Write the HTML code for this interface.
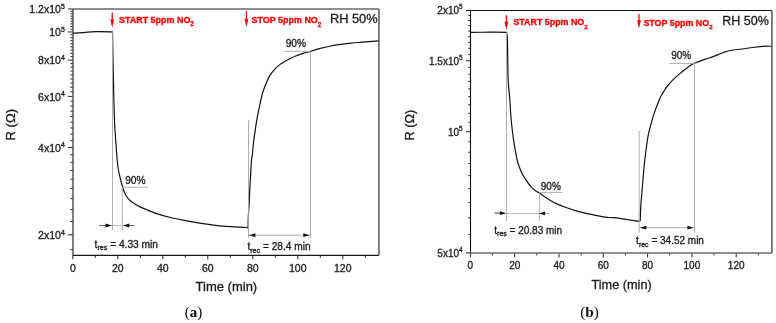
<!DOCTYPE html>
<html><head><meta charset="utf-8"><style>
html,body{margin:0;padding:0;background:#fff;width:776px;height:323px;overflow:hidden;}
svg{display:block;will-change:transform;}
text{font-family:"Liberation Sans", sans-serif;stroke:#1a1a1a;stroke-width:0.3px;}
text.r{stroke:#ff0000;}
text.s{font-family:"Liberation Serif", serif;stroke-width:0.05px;}
</style></head><body>
<svg width="776" height="323" viewBox="0 0 776 323">
<rect width="776" height="323" fill="#fff"/>
<line x1="70.40" y1="249.66" x2="73.00" y2="249.66" stroke="#222" stroke-width="1.0"/>
<line x1="70.40" y1="221.54" x2="73.00" y2="221.54" stroke="#222" stroke-width="1.0"/>
<line x1="70.40" y1="209.53" x2="73.00" y2="209.53" stroke="#222" stroke-width="1.0"/>
<line x1="70.40" y1="198.56" x2="73.00" y2="198.56" stroke="#222" stroke-width="1.0"/>
<line x1="70.40" y1="188.47" x2="73.00" y2="188.47" stroke="#222" stroke-width="1.0"/>
<line x1="70.40" y1="179.13" x2="73.00" y2="179.13" stroke="#222" stroke-width="1.0"/>
<line x1="70.40" y1="170.44" x2="73.00" y2="170.44" stroke="#222" stroke-width="1.0"/>
<line x1="70.40" y1="162.30" x2="73.00" y2="162.30" stroke="#222" stroke-width="1.0"/>
<line x1="70.40" y1="154.66" x2="73.00" y2="154.66" stroke="#222" stroke-width="1.0"/>
<line x1="70.40" y1="140.65" x2="73.00" y2="140.65" stroke="#222" stroke-width="1.0"/>
<line x1="70.40" y1="134.18" x2="73.00" y2="134.18" stroke="#222" stroke-width="1.0"/>
<line x1="70.40" y1="128.03" x2="73.00" y2="128.03" stroke="#222" stroke-width="1.0"/>
<line x1="70.40" y1="122.17" x2="73.00" y2="122.17" stroke="#222" stroke-width="1.0"/>
<line x1="70.40" y1="116.57" x2="73.00" y2="116.57" stroke="#222" stroke-width="1.0"/>
<line x1="70.40" y1="111.20" x2="73.00" y2="111.20" stroke="#222" stroke-width="1.0"/>
<line x1="70.40" y1="106.06" x2="73.00" y2="106.06" stroke="#222" stroke-width="1.0"/>
<line x1="70.40" y1="101.11" x2="73.00" y2="101.11" stroke="#222" stroke-width="1.0"/>
<line x1="70.40" y1="91.77" x2="73.00" y2="91.77" stroke="#222" stroke-width="1.0"/>
<line x1="70.40" y1="87.35" x2="73.00" y2="87.35" stroke="#222" stroke-width="1.0"/>
<line x1="70.40" y1="83.08" x2="73.00" y2="83.08" stroke="#222" stroke-width="1.0"/>
<line x1="70.40" y1="78.95" x2="73.00" y2="78.95" stroke="#222" stroke-width="1.0"/>
<line x1="70.40" y1="74.95" x2="73.00" y2="74.95" stroke="#222" stroke-width="1.0"/>
<line x1="70.40" y1="71.07" x2="73.00" y2="71.07" stroke="#222" stroke-width="1.0"/>
<line x1="70.40" y1="67.30" x2="73.00" y2="67.30" stroke="#222" stroke-width="1.0"/>
<line x1="70.40" y1="63.65" x2="73.00" y2="63.65" stroke="#222" stroke-width="1.0"/>
<line x1="70.40" y1="56.65" x2="73.00" y2="56.65" stroke="#222" stroke-width="1.0"/>
<line x1="70.40" y1="53.29" x2="73.00" y2="53.29" stroke="#222" stroke-width="1.0"/>
<line x1="70.40" y1="50.01" x2="73.00" y2="50.01" stroke="#222" stroke-width="1.0"/>
<line x1="70.40" y1="46.82" x2="73.00" y2="46.82" stroke="#222" stroke-width="1.0"/>
<line x1="70.40" y1="43.71" x2="73.00" y2="43.71" stroke="#222" stroke-width="1.0"/>
<line x1="70.40" y1="40.67" x2="73.00" y2="40.67" stroke="#222" stroke-width="1.0"/>
<line x1="70.40" y1="37.71" x2="73.00" y2="37.71" stroke="#222" stroke-width="1.0"/>
<line x1="70.40" y1="34.81" x2="73.00" y2="34.81" stroke="#222" stroke-width="1.0"/>
<line x1="70.40" y1="29.21" x2="73.00" y2="29.21" stroke="#222" stroke-width="1.0"/>
<line x1="70.40" y1="26.50" x2="73.00" y2="26.50" stroke="#222" stroke-width="1.0"/>
<line x1="70.40" y1="23.84" x2="73.00" y2="23.84" stroke="#222" stroke-width="1.0"/>
<line x1="70.40" y1="21.25" x2="73.00" y2="21.25" stroke="#222" stroke-width="1.0"/>
<line x1="70.40" y1="18.70" x2="73.00" y2="18.70" stroke="#222" stroke-width="1.0"/>
<line x1="70.40" y1="16.20" x2="73.00" y2="16.20" stroke="#222" stroke-width="1.0"/>
<line x1="70.40" y1="13.76" x2="73.00" y2="13.76" stroke="#222" stroke-width="1.0"/>
<line x1="70.40" y1="11.36" x2="73.00" y2="11.36" stroke="#222" stroke-width="1.0"/>
<line x1="68.00" y1="234.82" x2="73.00" y2="234.82" stroke="#222" stroke-width="1.0"/>
<line x1="68.00" y1="147.46" x2="73.00" y2="147.46" stroke="#222" stroke-width="1.0"/>
<line x1="68.00" y1="96.36" x2="73.00" y2="96.36" stroke="#222" stroke-width="1.0"/>
<line x1="68.00" y1="60.10" x2="73.00" y2="60.10" stroke="#222" stroke-width="1.0"/>
<line x1="68.00" y1="31.98" x2="73.00" y2="31.98" stroke="#222" stroke-width="1.0"/>
<line x1="68.00" y1="9.00" x2="73.00" y2="9.00" stroke="#222" stroke-width="1.0"/>
<line x1="72.80" y1="255.30" x2="72.80" y2="259.30" stroke="#222" stroke-width="1.0"/>
<line x1="95.30" y1="255.30" x2="95.30" y2="257.80" stroke="#222" stroke-width="1.0"/>
<line x1="117.80" y1="255.30" x2="117.80" y2="259.30" stroke="#222" stroke-width="1.0"/>
<line x1="140.30" y1="255.30" x2="140.30" y2="257.80" stroke="#222" stroke-width="1.0"/>
<line x1="162.80" y1="255.30" x2="162.80" y2="259.30" stroke="#222" stroke-width="1.0"/>
<line x1="185.30" y1="255.30" x2="185.30" y2="257.80" stroke="#222" stroke-width="1.0"/>
<line x1="207.80" y1="255.30" x2="207.80" y2="259.30" stroke="#222" stroke-width="1.0"/>
<line x1="230.30" y1="255.30" x2="230.30" y2="257.80" stroke="#222" stroke-width="1.0"/>
<line x1="252.80" y1="255.30" x2="252.80" y2="259.30" stroke="#222" stroke-width="1.0"/>
<line x1="275.30" y1="255.30" x2="275.30" y2="257.80" stroke="#222" stroke-width="1.0"/>
<line x1="297.80" y1="255.30" x2="297.80" y2="259.30" stroke="#222" stroke-width="1.0"/>
<line x1="320.30" y1="255.30" x2="320.30" y2="257.80" stroke="#222" stroke-width="1.0"/>
<line x1="342.80" y1="255.30" x2="342.80" y2="259.30" stroke="#222" stroke-width="1.0"/>
<line x1="365.30" y1="255.30" x2="365.30" y2="257.80" stroke="#222" stroke-width="1.0"/>
<line x1="73.00" y1="9.00" x2="378.90" y2="9.00" stroke="#6a6a6a" stroke-width="1.4"/>
<line x1="73.00" y1="9.00" x2="73.00" y2="255.30" stroke="#555" stroke-width="1.5"/>
<line x1="73.00" y1="255.30" x2="378.90" y2="255.30" stroke="#1a1a1a" stroke-width="1.2"/>
<line x1="378.90" y1="9.00" x2="378.90" y2="255.30" stroke="#6a6a6a" stroke-width="1.7"/>
<text x="72.80" y="271.70" font-size="10.5" text-anchor="middle" fill="#1a1a1a" font-weight="normal" font-family='"Liberation Sans", sans-serif' >0</text>
<text x="117.80" y="271.70" font-size="10.5" text-anchor="middle" fill="#1a1a1a" font-weight="normal" font-family='"Liberation Sans", sans-serif' >20</text>
<text x="162.80" y="271.70" font-size="10.5" text-anchor="middle" fill="#1a1a1a" font-weight="normal" font-family='"Liberation Sans", sans-serif' >40</text>
<text x="207.80" y="271.70" font-size="10.5" text-anchor="middle" fill="#1a1a1a" font-weight="normal" font-family='"Liberation Sans", sans-serif' >60</text>
<text x="252.80" y="271.70" font-size="10.5" text-anchor="middle" fill="#1a1a1a" font-weight="normal" font-family='"Liberation Sans", sans-serif' >80</text>
<text x="297.80" y="271.70" font-size="10.5" text-anchor="middle" fill="#1a1a1a" font-weight="normal" font-family='"Liberation Sans", sans-serif' >100</text>
<text x="342.80" y="271.70" font-size="10.5" text-anchor="middle" fill="#1a1a1a" font-weight="normal" font-family='"Liberation Sans", sans-serif' >120</text>
<text x="64.80" y="13.30" font-size="10.5" text-anchor="end" fill="#1a1a1a" font-family='"Liberation Sans", sans-serif'>1.2x10<tspan dy="-4.3" font-size="7.0">5</tspan></text>
<text x="64.80" y="36.28" font-size="10.5" text-anchor="end" fill="#1a1a1a" font-family='"Liberation Sans", sans-serif'>10<tspan dy="-4.3" font-size="7.0">5</tspan></text>
<text x="64.80" y="64.40" font-size="10.5" text-anchor="end" fill="#1a1a1a" font-family='"Liberation Sans", sans-serif'>8x10<tspan dy="-4.3" font-size="7.0">4</tspan></text>
<text x="64.80" y="100.66" font-size="10.5" text-anchor="end" fill="#1a1a1a" font-family='"Liberation Sans", sans-serif'>6x10<tspan dy="-4.3" font-size="7.0">4</tspan></text>
<text x="64.80" y="151.76" font-size="10.5" text-anchor="end" fill="#1a1a1a" font-family='"Liberation Sans", sans-serif'>4x10<tspan dy="-4.3" font-size="7.0">4</tspan></text>
<text x="64.80" y="239.12" font-size="10.5" text-anchor="end" fill="#1a1a1a" font-family='"Liberation Sans", sans-serif'>2x10<tspan dy="-4.3" font-size="7.0">4</tspan></text>
<text x="226.40" y="291.20" font-size="13.0" text-anchor="middle" fill="#1a1a1a" font-weight="normal" font-family='"Liberation Sans", sans-serif' >Time (min)</text>
<text transform="translate(15.20,124.70) rotate(-90)" font-size="13.0" text-anchor="middle" fill="#1a1a1a" font-family='"Liberation Sans", sans-serif'>R (&#937;)</text>
<text x="329.90" y="22.60" font-size="12.8" text-anchor="start" fill="#1a1a1a" font-weight="normal" font-family='"Liberation Sans", sans-serif' >RH 50%</text>
<line x1="112.20" y1="12.80" x2="112.20" y2="22.70" stroke="#ff0000" stroke-width="1.3"/>
<polygon points="112.20,27.70 110.30,19.50 114.10,19.50" fill="#ff0000"/>
<text class="r" x="119.00" y="23.20" font-size="8.95" font-weight="bold" fill="#ff0000" font-family='"Liberation Sans", sans-serif'>START 5ppm NO<tspan dy="3.2" font-size="6.3">2</tspan></text>
<line x1="246.40" y1="11.20" x2="246.40" y2="22.20" stroke="#ff0000" stroke-width="1.3"/>
<polygon points="246.40,27.20 244.50,19.00 248.30,19.00" fill="#ff0000"/>
<text class="r" x="251.60" y="23.40" font-size="8.95" font-weight="bold" fill="#ff0000" font-family='"Liberation Sans", sans-serif'>STOP 5ppm NO<tspan dy="3.2" font-size="6.3">2</tspan></text>
<path d="M73.00,33.10 C74.67,33.02 79.17,32.85 83.00,32.60 C86.83,32.35 91.33,31.73 96.00,31.60 C100.67,31.47 108.25,31.70 111.00,31.80 C113.75,31.90 112.25,32.13 112.50,32.20 L112.50,32.20 C112.58,36.83 112.77,48.70 113.00,60.00 C113.23,71.30 113.62,89.20 113.90,100.00 C114.18,110.80 114.32,116.97 114.70,124.80 C115.08,132.63 115.75,140.80 116.20,147.00 C116.65,153.20 117.00,158.00 117.40,162.00 C117.80,166.00 118.15,168.42 118.60,171.00 C119.05,173.58 119.60,175.40 120.10,177.50 C120.60,179.60 121.08,181.68 121.60,183.60 C122.12,185.52 122.55,187.18 123.20,189.00 C123.85,190.82 124.60,192.82 125.50,194.50 C126.40,196.18 127.30,197.68 128.60,199.10 C129.90,200.52 131.48,201.75 133.30,203.00 C135.12,204.25 137.43,205.55 139.50,206.60 C141.57,207.65 142.70,208.08 145.70,209.30 C148.70,210.52 153.37,212.53 157.50,213.90 C161.63,215.27 166.07,216.42 170.50,217.50 C174.93,218.58 179.25,219.45 184.10,220.40 C188.95,221.35 194.70,222.42 199.60,223.20 C204.50,223.98 208.30,224.52 213.50,225.10 C218.70,225.68 225.38,226.30 230.80,226.70 C236.22,227.10 243.12,227.28 246.00,227.50 C248.88,227.72 247.75,227.92 248.10,228.00 L248.10,228.00 C248.12,226.68 248.13,222.52 248.20,220.10 C248.27,217.68 248.35,216.10 248.50,213.50 C248.65,210.90 248.88,208.58 249.10,204.50 C249.32,200.42 249.53,194.18 249.80,189.00 C250.07,183.82 250.42,178.23 250.70,173.40 C250.98,168.57 251.22,163.18 251.50,160.00 C251.78,156.82 252.05,157.32 252.40,154.30 C252.75,151.28 253.12,146.02 253.60,141.90 C254.08,137.78 254.68,133.72 255.30,129.60 C255.92,125.48 256.55,121.33 257.30,117.20 C258.05,113.07 258.97,108.67 259.80,104.80 C260.63,100.93 261.58,96.72 262.30,94.00 C263.02,91.28 263.47,90.27 264.10,88.50 C264.73,86.73 265.35,85.17 266.10,83.40 C266.85,81.63 267.67,79.65 268.60,77.90 C269.53,76.15 270.57,74.45 271.70,72.90 C272.83,71.35 274.05,69.98 275.40,68.60 C276.75,67.22 278.25,65.80 279.80,64.60 C281.35,63.40 283.05,62.38 284.70,61.40 C286.35,60.42 287.98,59.57 289.70,58.70 C291.42,57.83 292.77,57.08 295.00,56.20 C297.23,55.32 300.48,54.22 303.10,53.40 C305.72,52.58 307.83,52.15 310.70,51.30 C313.57,50.45 316.93,49.18 320.30,48.30 C323.67,47.42 327.42,46.65 330.90,46.00 C334.38,45.35 337.77,44.88 341.20,44.40 C344.63,43.92 348.05,43.47 351.50,43.10 C354.95,42.73 358.45,42.50 361.90,42.20 C365.35,41.90 369.45,41.53 372.20,41.30 C374.95,41.07 377.37,40.88 378.40,40.80" fill="none" stroke="#111" stroke-width="1.2" stroke-linejoin="miter"/>
<line x1="112.50" y1="32.00" x2="112.50" y2="230.20" stroke="#a6a6a6" stroke-width="0.9"/>
<line x1="122.30" y1="187.20" x2="122.30" y2="230.20" stroke="#a6a6a6" stroke-width="0.9"/>
<line x1="122.30" y1="187.20" x2="148.00" y2="187.20" stroke="#a6a6a6" stroke-width="0.9"/>
<line x1="99.00" y1="225.50" x2="134.40" y2="225.50" stroke="#aaa" stroke-width="0.8"/>
<line x1="99.00" y1="225.50" x2="106.00" y2="225.50" stroke="#555" stroke-width="0.8"/>
<line x1="128.00" y1="225.50" x2="134.40" y2="225.50" stroke="#555" stroke-width="0.8"/>
<polygon points="111.80,225.50 105.50,223.60 105.50,227.40" fill="#111"/>
<polygon points="123.00,225.50 129.30,223.60 129.30,227.40" fill="#111"/>
<text x="125.20" y="184.30" font-size="10.2" text-anchor="start" fill="#1a1a1a" font-weight="normal" font-family='"Liberation Sans", sans-serif' >90%</text>
<text x="94.60" y="247.80" font-size="10.2" fill="#1a1a1a" font-family='"Liberation Sans", sans-serif'>t<tspan dy="2.6" font-size="7.1">res</tspan><tspan dy="-2.6"> = 4.33 min</tspan></text>
<line x1="248.50" y1="119.80" x2="248.50" y2="237.90" stroke="#a6a6a6" stroke-width="0.9"/>
<line x1="310.50" y1="51.40" x2="310.50" y2="237.90" stroke="#a6a6a6" stroke-width="0.9"/>
<line x1="284.60" y1="51.40" x2="310.50" y2="51.40" stroke="#a6a6a6" stroke-width="0.9"/>
<line x1="248.50" y1="235.20" x2="310.50" y2="235.20" stroke="#999" stroke-width="0.8"/>
<polygon points="249.10,235.20 255.40,233.30 255.40,237.10" fill="#111"/>
<polygon points="309.60,235.20 303.30,233.30 303.30,237.10" fill="#111"/>
<text x="285.70" y="46.80" font-size="10.2" text-anchor="start" fill="#1a1a1a" font-weight="normal" font-family='"Liberation Sans", sans-serif' >90%</text>
<text x="247.40" y="250.20" font-size="10.2" fill="#1a1a1a" font-family='"Liberation Sans", sans-serif'>t<tspan dy="2.6" font-size="7.1">rec</tspan><tspan dy="-2.6"> = 28.4 min</tspan></text>
<text class="s" x="193.50" y="316.70" font-size="15.0" text-anchor="middle" fill="#111" font-family='"Liberation Serif", serif'>(<tspan font-weight="bold">a</tspan>)</text>
<line x1="468.30" y1="234.48" x2="470.50" y2="234.48" stroke="#222" stroke-width="1.0"/>
<line x1="468.30" y1="217.81" x2="470.50" y2="217.81" stroke="#222" stroke-width="1.0"/>
<line x1="468.30" y1="202.60" x2="470.50" y2="202.60" stroke="#222" stroke-width="1.0"/>
<line x1="468.30" y1="188.60" x2="470.50" y2="188.60" stroke="#222" stroke-width="1.0"/>
<line x1="468.30" y1="175.64" x2="470.50" y2="175.64" stroke="#222" stroke-width="1.0"/>
<line x1="468.30" y1="163.58" x2="470.50" y2="163.58" stroke="#222" stroke-width="1.0"/>
<line x1="468.30" y1="152.29" x2="470.50" y2="152.29" stroke="#222" stroke-width="1.0"/>
<line x1="468.30" y1="141.69" x2="470.50" y2="141.69" stroke="#222" stroke-width="1.0"/>
<line x1="468.30" y1="122.25" x2="470.50" y2="122.25" stroke="#222" stroke-width="1.0"/>
<line x1="468.30" y1="113.28" x2="470.50" y2="113.28" stroke="#222" stroke-width="1.0"/>
<line x1="468.30" y1="104.75" x2="470.50" y2="104.75" stroke="#222" stroke-width="1.0"/>
<line x1="468.30" y1="96.61" x2="470.50" y2="96.61" stroke="#222" stroke-width="1.0"/>
<line x1="468.30" y1="88.84" x2="470.50" y2="88.84" stroke="#222" stroke-width="1.0"/>
<line x1="468.30" y1="81.40" x2="470.50" y2="81.40" stroke="#222" stroke-width="1.0"/>
<line x1="468.30" y1="74.26" x2="470.50" y2="74.26" stroke="#222" stroke-width="1.0"/>
<line x1="468.30" y1="67.40" x2="470.50" y2="67.40" stroke="#222" stroke-width="1.0"/>
<line x1="468.30" y1="54.44" x2="470.50" y2="54.44" stroke="#222" stroke-width="1.0"/>
<line x1="468.30" y1="48.31" x2="470.50" y2="48.31" stroke="#222" stroke-width="1.0"/>
<line x1="468.30" y1="42.38" x2="470.50" y2="42.38" stroke="#222" stroke-width="1.0"/>
<line x1="468.30" y1="36.65" x2="470.50" y2="36.65" stroke="#222" stroke-width="1.0"/>
<line x1="468.30" y1="31.09" x2="470.50" y2="31.09" stroke="#222" stroke-width="1.0"/>
<line x1="468.30" y1="25.71" x2="470.50" y2="25.71" stroke="#222" stroke-width="1.0"/>
<line x1="468.30" y1="20.49" x2="470.50" y2="20.49" stroke="#222" stroke-width="1.0"/>
<line x1="468.30" y1="15.43" x2="470.50" y2="15.43" stroke="#222" stroke-width="1.0"/>
<line x1="466.00" y1="252.90" x2="470.50" y2="252.90" stroke="#222" stroke-width="1.0"/>
<line x1="466.00" y1="131.70" x2="470.50" y2="131.70" stroke="#222" stroke-width="1.0"/>
<line x1="466.00" y1="60.80" x2="470.50" y2="60.80" stroke="#222" stroke-width="1.0"/>
<line x1="466.00" y1="10.50" x2="470.50" y2="10.50" stroke="#222" stroke-width="1.0"/>
<line x1="470.40" y1="252.90" x2="470.40" y2="257.40" stroke="#222" stroke-width="1.0"/>
<line x1="492.55" y1="252.90" x2="492.55" y2="255.40" stroke="#222" stroke-width="1.0"/>
<line x1="514.70" y1="252.90" x2="514.70" y2="257.40" stroke="#222" stroke-width="1.0"/>
<line x1="536.85" y1="252.90" x2="536.85" y2="255.40" stroke="#222" stroke-width="1.0"/>
<line x1="559.00" y1="252.90" x2="559.00" y2="257.40" stroke="#222" stroke-width="1.0"/>
<line x1="581.15" y1="252.90" x2="581.15" y2="255.40" stroke="#222" stroke-width="1.0"/>
<line x1="603.30" y1="252.90" x2="603.30" y2="257.40" stroke="#222" stroke-width="1.0"/>
<line x1="625.45" y1="252.90" x2="625.45" y2="255.40" stroke="#222" stroke-width="1.0"/>
<line x1="647.60" y1="252.90" x2="647.60" y2="257.40" stroke="#222" stroke-width="1.0"/>
<line x1="669.75" y1="252.90" x2="669.75" y2="255.40" stroke="#222" stroke-width="1.0"/>
<line x1="691.90" y1="252.90" x2="691.90" y2="257.40" stroke="#222" stroke-width="1.0"/>
<line x1="714.05" y1="252.90" x2="714.05" y2="255.40" stroke="#222" stroke-width="1.0"/>
<line x1="736.20" y1="252.90" x2="736.20" y2="257.40" stroke="#222" stroke-width="1.0"/>
<line x1="758.35" y1="252.90" x2="758.35" y2="255.40" stroke="#222" stroke-width="1.0"/>
<line x1="470.50" y1="10.50" x2="771.90" y2="10.50" stroke="#111" stroke-width="1.1"/>
<line x1="470.50" y1="10.50" x2="470.50" y2="252.90" stroke="#111" stroke-width="1.1"/>
<line x1="470.50" y1="252.90" x2="771.90" y2="252.90" stroke="#6a6a6a" stroke-width="1.5"/>
<line x1="771.90" y1="10.50" x2="771.90" y2="252.90" stroke="#6a6a6a" stroke-width="1.7"/>
<text x="470.40" y="269.00" font-size="10.0" text-anchor="middle" fill="#1a1a1a" font-weight="normal" font-family='"Liberation Sans", sans-serif' >0</text>
<text x="514.70" y="269.00" font-size="10.0" text-anchor="middle" fill="#1a1a1a" font-weight="normal" font-family='"Liberation Sans", sans-serif' >20</text>
<text x="559.00" y="269.00" font-size="10.0" text-anchor="middle" fill="#1a1a1a" font-weight="normal" font-family='"Liberation Sans", sans-serif' >40</text>
<text x="603.30" y="269.00" font-size="10.0" text-anchor="middle" fill="#1a1a1a" font-weight="normal" font-family='"Liberation Sans", sans-serif' >60</text>
<text x="647.60" y="269.00" font-size="10.0" text-anchor="middle" fill="#1a1a1a" font-weight="normal" font-family='"Liberation Sans", sans-serif' >80</text>
<text x="691.90" y="269.00" font-size="10.0" text-anchor="middle" fill="#1a1a1a" font-weight="normal" font-family='"Liberation Sans", sans-serif' >100</text>
<text x="736.20" y="269.00" font-size="10.0" text-anchor="middle" fill="#1a1a1a" font-weight="normal" font-family='"Liberation Sans", sans-serif' >120</text>
<text x="462.60" y="14.00" font-size="10.0" text-anchor="end" fill="#1a1a1a" font-family='"Liberation Sans", sans-serif'>2x10<tspan dy="-4.9" font-size="6.4">5</tspan></text>
<text x="462.60" y="65.00" font-size="10.0" text-anchor="end" fill="#1a1a1a" font-family='"Liberation Sans", sans-serif'>1.5x10<tspan dy="-4.9" font-size="6.4">5</tspan></text>
<text x="462.60" y="136.00" font-size="10.0" text-anchor="end" fill="#1a1a1a" font-family='"Liberation Sans", sans-serif'>10<tspan dy="-4.9" font-size="6.4">5</tspan></text>
<text x="462.60" y="257.00" font-size="10.0" text-anchor="end" fill="#1a1a1a" font-family='"Liberation Sans", sans-serif'>5x10<tspan dy="-4.9" font-size="6.4">4</tspan></text>
<text x="621.60" y="288.60" font-size="12.7" text-anchor="middle" fill="#1a1a1a" font-weight="normal" font-family='"Liberation Sans", sans-serif' >Time (min)</text>
<text transform="translate(413.70,125.20) rotate(-90)" font-size="12.7" text-anchor="middle" fill="#1a1a1a" font-family='"Liberation Sans", sans-serif'>R (&#937;)</text>
<text x="722.30" y="24.60" font-size="12.5" text-anchor="start" fill="#1a1a1a" font-weight="normal" font-family='"Liberation Sans", sans-serif' >RH 50%</text>
<line x1="506.40" y1="15.20" x2="506.40" y2="24.90" stroke="#ff0000" stroke-width="1.3"/>
<polygon points="506.40,29.90 504.50,21.70 508.30,21.70" fill="#ff0000"/>
<text class="r" x="513.40" y="25.40" font-size="8.9" font-weight="bold" fill="#ff0000" font-family='"Liberation Sans", sans-serif'>START 5ppm NO<tspan dy="3.2" font-size="6.2">2</tspan></text>
<line x1="639.00" y1="14.30" x2="639.00" y2="23.40" stroke="#ff0000" stroke-width="1.3"/>
<polygon points="639.00,28.40 637.10,20.20 640.90,20.20" fill="#ff0000"/>
<text class="r" x="643.40" y="25.80" font-size="8.9" font-weight="bold" fill="#ff0000" font-family='"Liberation Sans", sans-serif'>STOP 5ppm NO<tspan dy="3.2" font-size="6.2">2</tspan></text>
<path d="M470.50,32.30 C473.75,32.28 484.00,32.20 490.00,32.20 C496.00,32.20 503.75,32.28 506.50,32.30 L506.50,32.30 C506.65,33.58 507.12,32.05 507.40,40.00 C507.68,47.95 507.78,70.00 508.20,80.00 C508.62,90.00 509.47,94.08 509.90,100.00 C510.33,105.92 510.38,110.33 510.80,115.50 C511.22,120.67 511.77,125.85 512.40,131.00 C513.03,136.15 513.77,141.40 514.60,146.40 C515.43,151.40 516.57,157.45 517.40,161.00 C518.23,164.55 518.72,165.42 519.60,167.70 C520.48,169.98 521.53,172.50 522.70,174.70 C523.87,176.90 525.17,178.83 526.60,180.90 C528.03,182.97 529.75,185.42 531.30,187.10 C532.85,188.78 534.52,190.00 535.90,191.00 C537.28,192.00 538.08,192.12 539.60,193.10 C541.12,194.08 543.02,195.58 545.00,196.90 C546.98,198.22 549.33,199.75 551.50,201.00 C553.67,202.25 555.47,203.27 558.00,204.40 C560.53,205.53 563.82,206.77 566.70,207.80 C569.58,208.83 572.42,209.77 575.30,210.60 C578.18,211.43 581.10,212.12 584.00,212.80 C586.90,213.48 589.20,213.98 592.70,214.70 C596.20,215.42 601.78,216.62 605.00,217.10 C608.22,217.58 609.60,217.40 612.00,217.60 C614.40,217.80 616.93,217.98 619.40,218.30 C621.87,218.62 624.32,219.10 626.80,219.50 C629.28,219.90 632.33,220.42 634.30,220.70 C636.27,220.98 637.67,221.22 638.60,221.20 C639.53,221.18 639.68,220.70 639.90,220.60 L639.90,220.60 C639.95,220.52 640.10,221.47 640.20,220.10 C640.30,218.73 640.38,215.07 640.50,212.40 C640.62,209.73 640.67,207.43 640.90,204.10 C641.13,200.77 641.53,196.72 641.90,192.40 C642.27,188.08 642.70,182.85 643.10,178.20 C643.50,173.55 643.80,169.28 644.30,164.50 C644.80,159.72 645.48,154.20 646.10,149.50 C646.72,144.80 647.15,140.67 648.00,136.30 C648.85,131.93 650.12,127.28 651.20,123.30 C652.28,119.32 653.42,115.67 654.50,112.40 C655.58,109.13 656.62,106.43 657.70,103.70 C658.78,100.97 659.87,98.25 661.00,96.00 C662.13,93.75 663.43,91.87 664.50,90.20 C665.57,88.53 665.88,87.83 667.40,86.00 C668.92,84.17 671.53,81.27 673.60,79.20 C675.67,77.13 677.73,75.35 679.80,73.60 C681.87,71.85 683.93,70.25 686.00,68.70 C688.07,67.15 690.80,65.20 692.20,64.30 C693.60,63.40 692.30,64.12 694.40,63.30 C696.50,62.48 701.57,60.55 704.80,59.40 C708.03,58.25 710.80,57.52 713.80,56.40 C716.80,55.28 720.05,53.68 722.80,52.70 C725.55,51.72 727.07,51.12 730.30,50.50 C733.53,49.88 738.47,49.50 742.20,49.00 C745.93,48.50 749.22,47.95 752.70,47.50 C756.18,47.05 759.98,46.50 763.10,46.30 C766.22,46.10 770.02,46.30 771.40,46.30" fill="none" stroke="#111" stroke-width="1.2" stroke-linejoin="miter"/>
<line x1="506.50" y1="32.30" x2="506.50" y2="221.00" stroke="#a6a6a6" stroke-width="0.9"/>
<line x1="539.40" y1="192.40" x2="539.40" y2="221.00" stroke="#a6a6a6" stroke-width="0.9"/>
<line x1="539.40" y1="192.40" x2="562.20" y2="192.40" stroke="#a6a6a6" stroke-width="0.9"/>
<line x1="494.70" y1="213.50" x2="550.00" y2="213.50" stroke="#aaa" stroke-width="0.8"/>
<line x1="494.70" y1="213.00" x2="501.00" y2="213.00" stroke="#444" stroke-width="0.8"/>
<polygon points="506.20,213.20 499.90,211.30 499.90,215.10" fill="#111"/>
<polygon points="538.80,213.40 545.10,211.50 545.10,215.30" fill="#111"/>
<text x="540.80" y="190.30" font-size="10.0" text-anchor="start" fill="#1a1a1a" font-weight="normal" font-family='"Liberation Sans", sans-serif' >90%</text>
<text x="494.30" y="233.70" font-size="10.0" fill="#1a1a1a" font-family='"Liberation Sans", sans-serif'>t<tspan dy="2.6" font-size="7.0">res</tspan><tspan dy="-2.6"> = 20.83 min</tspan></text>
<line x1="639.20" y1="130.90" x2="639.20" y2="233.00" stroke="#a6a6a6" stroke-width="0.9"/>
<line x1="694.50" y1="63.40" x2="694.50" y2="233.00" stroke="#a6a6a6" stroke-width="0.9"/>
<line x1="669.40" y1="63.40" x2="694.50" y2="63.40" stroke="#a6a6a6" stroke-width="0.9"/>
<line x1="639.30" y1="227.60" x2="694.40" y2="227.60" stroke="#999" stroke-width="0.8"/>
<polygon points="640.00,227.70 646.30,225.80 646.30,229.60" fill="#111"/>
<polygon points="693.70,227.70 687.40,225.80 687.40,229.60" fill="#111"/>
<text x="671.20" y="59.00" font-size="10.0" text-anchor="start" fill="#1a1a1a" font-weight="normal" font-family='"Liberation Sans", sans-serif' >90%</text>
<text x="636.10" y="244.00" font-size="10.0" fill="#1a1a1a" font-family='"Liberation Sans", sans-serif'>t<tspan dy="2.6" font-size="7.0">rec</tspan><tspan dy="-2.6"> = 34.52 min</tspan></text>
<text class="s" x="589.50" y="316.60" font-size="15.3" text-anchor="middle" fill="#111" font-family='"Liberation Serif", serif'>(<tspan font-weight="bold">b</tspan>)</text>
</svg>
</body></html>
